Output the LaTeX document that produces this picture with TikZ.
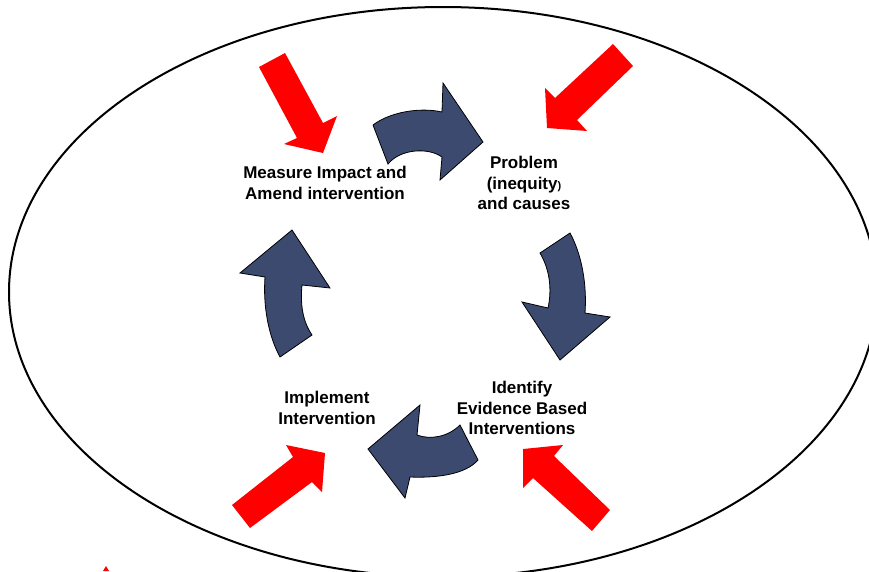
\documentclass[tikz,border=0pt]{standalone}
\usepackage{fontspec}
\setmainfont{Liberation Sans}
\definecolor{cyclefill}{RGB}{59,74,110}
\definecolor{pushred}{RGB}{255,0,0}

\begin{document}
\begin{tikzpicture}[x=1pt, y=-1pt,
  stage/.style={align=center, inner sep=0pt,
    font=\bfseries\fontsize{17}{20.5}\selectfont},
  cyclearrow/.style={fill=cyclefill, draw=black, line width=0.8pt, line join=miter},
  pusharrow/.style={fill=pushred, draw=none}]

\useasboundingbox (0,0) rectangle (869,571);
\clip (0,0) rectangle (869,571);

% outer boundary
\draw [line width=2pt] (443,292) ellipse [x radius=434, y radius=285];

% stages of the cycle
\node [stage] (measure) at (325,183) {Measure Impact and\\Amend intervention};
\node [stage] (problem) at (524,183) {Problem\\(inequity{\fontsize{11}{12}\selectfont)}\\and causes};
\node [stage] (identify) at (522,408) {Identify\\Evidence Based\\Interventions};
\node [stage] (implement) at (327,408) {Implement\\Intervention};

% curved block arrows between the stages
\draw [cyclearrow] (373,125) .. controls (390,112) and (420,107) .. (442,112)
  -- (443,83) -- (483,142) -- (440,180) -- (442,157)
  .. controls (428,147) and (400,149) .. (388,164) -- cycle;
\draw [cyclearrow] (570,233) .. controls (582,255) and (587,285) .. (585,313)
  -- (610,317) -- (560,360) -- (522,302) -- (548,308)
  .. controls (552,290) and (550,270) .. (540,253) -- cycle;
\draw [cyclearrow] (460,425) .. controls (448,437) and (430,440) .. (417,435)
  -- (420,405) -- (368,449) -- (405,498) -- (410,477)
  .. controls (435,478) and (465,475) .. (478,460) -- cycle;
\draw [cyclearrow] (280,357) .. controls (268,335) and (263,305) .. (265,277)
  -- (240,273) -- (292,230) -- (330,288) -- (302,285)
  .. controls (300,305) and (303,322) .. (312,335) -- cycle;

% outside pressures
\fill [pusharrow] (259,67) -- (285,53) -- (323,123) -- (337,116)
  -- (323,153) -- (284,144) -- (297,138) -- cycle;
\fill [pusharrow] (613,44) -- (633,66) -- (577,120) -- (587,131)
  -- (547,128) -- (545,88) -- (555,98) -- cycle;
\fill [pusharrow] (232,505) -- (250,528) -- (312,482) -- (322,492)
  -- (325,453) -- (286,445) -- (293,457) -- cycle;
\fill [pusharrow] (610,510) -- (592,531) -- (533,478) -- (523,488)
  -- (523,449) -- (563,445) -- (554,456) -- cycle;
\fill [pusharrow] (103,571) -- (106,566) -- (109,571) -- cycle;

\end{tikzpicture}
\end{document}
